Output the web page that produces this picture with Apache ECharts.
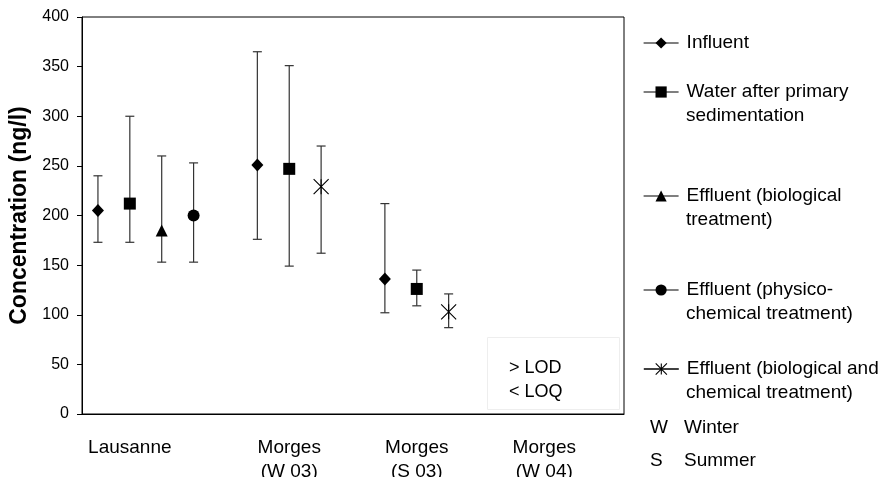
<!DOCTYPE html>
<html><head><meta charset="utf-8">
<script src="https://cdn.jsdelivr.net/npm/echarts@6/dist/echarts.min.js"></script>
<style>html,body{margin:0;padding:0;background:#fff}#c{width:883px;height:477px}</style>
</head><body><div id="c"></div>
<script>
// ---- data ----
const categories = ['', 'Lausanne', '', '', '', '', 'Morges\n(W 03)', '', '', '', 'Morges\n(S 03)', '', '', '', 'Morges\n(W 04)', '', ''];
const yMin = 0, yMax = 400, yStep = 50;
const seriesNames = ['Influent', 'Water after primary sedimentation', 'Effluent (biological treatment)', 'Effluent (physico-chemical treatment)', 'Effluent (biological and chemical treatment)'];
const legendLines = [['Influent'], ['Water after primary', 'sedimentation'], ['Effluent (biological', 'treatment)'], ['Effluent (physico-', 'chemical treatment)'], ['Effluent (biological and', 'chemical treatment)']];
const _ = null;
const influentMean = [205,_,_,_,_,251,_,_,_,136,_,_,_,_,_,_,_];
const influentLow  = [173,_,_,_,_,176,_,_,_,102,_,_,_,_,_,_,_];
const influentHigh = [240,_,_,_,_,365,_,_,_,212,_,_,_,_,_,_,_];
const primaryMean  = [_,212,_,_,_,_,247,_,_,_,126,_,_,_,_,_,_];
const primaryLow   = [_,173,_,_,_,_,149,_,_,_,109,_,_,_,_,_,_];
const primaryHigh  = [_,300,_,_,_,_,351,_,_,_,145,_,_,_,_,_,_];
const bioMean      = [_,_,185,_,_,_,_,_,_,_,_,_,_,_,_,_,_];
const bioLow       = [_,_,153,_,_,_,_,_,_,_,_,_,_,_,_,_,_];
const bioHigh      = [_,_,260,_,_,_,_,_,_,_,_,_,_,_,_,_,_];
const physMean     = [_,_,_,200,_,_,_,_,_,_,_,_,_,_,_,_,_];
const physLow      = [_,_,_,153,_,_,_,_,_,_,_,_,_,_,_,_,_];
const physHigh     = [_,_,_,253,_,_,_,_,_,_,_,_,_,_,_,_,_];
const bioChemMean  = [_,_,_,_,_,_,_,229,_,_,_,103,_,_,_,_,_];
const bioChemLow   = [_,_,_,_,_,_,_,162,_,_,_,87,_,_,_,_,_];
const bioChemHigh  = [_,_,_,_,_,_,_,270,_,_,_,121,_,_,_,_,_];
const noteLines = ['> LOD', '< LOQ'];
const seasonKey = [['W', 'Winter'], ['S', 'Summer']];

// ---- chart ----
const FONT = 'Liberation Sans, Arial, sans-serif';
const means = [influentMean, primaryMean, bioMean, physMean, bioChemMean];
const lows = [influentLow, primaryLow, bioLow, physLow, bioChemLow];
const highs = [influentHigh, primaryHigh, bioHigh, physHigh, bioChemHigh];
const symbols = ['diamond', 'rect', 'triangle', 'circle', 'path://M0,0L10,10M10,0L0,10M5,0L5,10'];
const symbolSizes = [[12, 13], 12, 12, 12, 15];

const errData = [];
means.forEach((m, s) => m.forEach((v, i) => { if (v != null) errData.push([i, lows[s][i], highs[s][i]]); }));

const series = [{
  type: 'custom', z: 1, silent: true,
  encode: { x: 0, y: [1, 2] },
  data: errData,
  renderItem: (params, api) => {
    const x = api.value(0);
    const lo = api.coord([x, api.value(1)]);
    const hi = api.coord([x, api.value(2)]);
    const w = 4.5, st = { stroke: '#333', lineWidth: 1.2 };
    return { type: 'group', children: [
      { type: 'line', shape: { x1: lo[0], y1: lo[1], x2: hi[0], y2: hi[1] }, style: st },
      { type: 'line', shape: { x1: hi[0] - w, y1: hi[1], x2: hi[0] + w, y2: hi[1] }, style: st },
      { type: 'line', shape: { x1: lo[0] - w, y1: lo[1], x2: lo[0] + w, y2: lo[1] }, style: st }
    ]};
  }
}];
seriesNames.forEach((n, s) => {
  const star = s === 4;
  series.push({
    type: 'line', name: n, z: 3, data: means[s], showAllSymbol: true, connectNulls: false,
    symbol: symbols[s], symbolSize: symbolSizes[s],
    lineStyle: { opacity: 0, width: 0 },
    itemStyle: star ? { color: 'rgba(0,0,0,0)', borderColor: '#000', borderWidth: 1.1 } : { color: '#000', borderWidth: 0 },
    emphasis: { disabled: true }
  });
});

const legendIconCenters = [43, 92, 196, 290, 369];
const LINE_H = 24;
const legends = seriesNames.map((n, s) => ({
  data: [n], orient: 'vertical', left: 643,
  top: legendIconCenters[s] - 12,
  padding: 0, itemWidth: 35, itemHeight: 14, selectedMode: false,
  formatter: () => legendLines[s][0],
  textStyle: { fontFamily: FONT, fontSize: 19, color: '#000', lineHeight: LINE_H, padding: [0, 0, 0, 3] },
  lineStyle: { color: '#000', width: s === 4 ? 1.6 : 1.2, opacity: 1, type: 'solid' },
  itemStyle: { borderWidth: 'inherit' }
}));

const graphic = [
  { type: 'rect', left: 485, top: 335, shape: { width: 132, height: 72 }, style: { fill: 'none', stroke: '#eeeeee', lineWidth: 1 }, z: 0 },
  { type: 'text', left: 509, top: 356, style: { text: noteLines.join('\n'), font: '18px ' + FONT, lineHeight: 24, fill: '#000' } }
];
legendLines.forEach((lines, s) => {
  lines.slice(1).forEach((t, k) => {
    graphic.push({ type: 'text', left: 686, top: legendIconCenters[s] - 12 + LINE_H * (k + 1),
      style: { text: t, font: '19px ' + FONT, lineHeight: LINE_H, fill: '#000' } });
  });
});
seasonKey.forEach((k, i) => {
  const cy = [428, 461][i];
  graphic.push({ type: 'text', left: 650, top: cy - 12, style: { text: k[0], font: '19px ' + FONT, lineHeight: 24, fill: '#000' } });
  graphic.push({ type: 'text', left: 684, top: cy - 12, style: { text: k[1], font: '19px ' + FONT, lineHeight: 24, fill: '#000' } });
});

const chart = echarts.init(document.getElementById('c'), null, { renderer: 'canvas' });
chart.setOption({
  animation: false,
  backgroundColor: '#fff',
  grid: { left: 82, top: 17, width: 542, height: 397, show: true, borderColor: '#000', borderWidth: 1, backgroundColor: 'transparent', containLabel: false, outerBoundsMode: 'none' },
  xAxis: {
    type: 'category', data: categories, boundaryGap: true,
    axisLine: { lineStyle: { color: '#000', width: 1 } },
    axisTick: { show: false },
    axisLabel: { interval: 0, color: '#000', fontFamily: FONT, fontSize: 19, lineHeight: 24, margin: 22 },
    splitLine: { show: false }
  },
  yAxis: {
    type: 'value', min: yMin, max: yMax, interval: yStep,
    name: 'Concentration (ng/l)', nameLocation: 'middle', nameGap: 44,
    nameTextStyle: { fontFamily: FONT, fontSize: 23, fontWeight: 'bold', color: '#000' },
    axisLine: { show: true, lineStyle: { color: '#000', width: 1 } },
    axisTick: { show: true, length: 5, lineStyle: { color: '#000' } },
    axisLabel: { color: '#000', fontFamily: FONT, fontSize: 16, margin: 13 },
    splitLine: { show: false }
  },
  legend: legends,
  series: series,
  graphic: graphic
});
</script></body></html>
